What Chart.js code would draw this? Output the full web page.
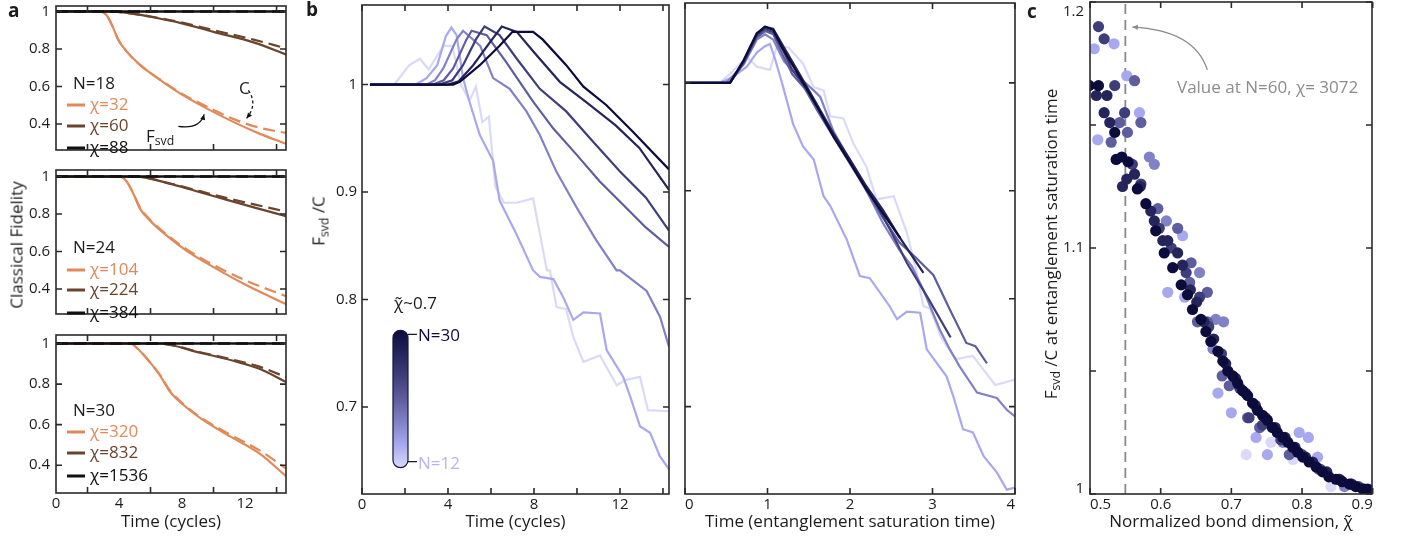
<!DOCTYPE html>
<html>
<head>
<meta charset="utf-8">
<script src="https://cdn.jsdelivr.net/npm/chart.js@4.4.1/dist/chart.umd.min.js"></script>
<style>
  html, body { margin: 0; padding: 0; background: #fff; }
  body { position: relative; width: 1406px; height: 537px; overflow: hidden;
         font-family: "Open Sans", "Noto Sans", sans-serif; color: #1c1c1c; }
  canvas { position: absolute; }
  .t { position: absolute; white-space: nowrap; font-size: 17px; line-height: 1; transform: translateY(-50%); }
  .rot { transform: translate(-50%, -50%) rotate(-90deg); }
  .panel { font-weight: 700; font-size: 19px; }
  sub { font-size: 72%; vertical-align: -0.3em; line-height: 0; }
  .key { display: inline-block; width: 18px; height: 3px; margin-right: 5px; vertical-align: middle; }
</style>
</head>
<body>
<canvas id="a1"></canvas>
<canvas id="a2"></canvas>
<canvas id="a3"></canvas>
<canvas id="bl"></canvas>
<canvas id="br"></canvas>
<canvas id="c"></canvas>
<script>
// ---------- panel a: classical fidelity vs time (cycles) ----------
const aN = [18, 24, 30];
const aChi = [[32, 60, 88], [104, 224, 384], [320, 832, 1536]];

const a18OrangeF = [[0,1],[2.79,1],[3.22,0.979],[3.62,0.915],[3.94,0.851],[4.48,0.787],[5.33,0.715],[6.6,0.635],[7.87,0.563],[9.56,0.483],[11.25,0.411],[12.95,0.347],[14.6,0.294]];
const a18OrangeC = [[0,1],[2.79,1],[3.22,0.979],[3.62,0.915],[3.94,0.851],[4.48,0.787],[5.33,0.715],[6.6,0.637],[7.87,0.567],[9.56,0.493],[11.25,0.427],[12.95,0.379],[14.6,0.352]];
const a18BrownF = [[0,1],[3.3,1],[4.95,0.987],[6.4,0.965],[7.87,0.939],[10,0.891],[12.54,0.835],[14.6,0.771]];
const a18BrownC = [[0,1],[3.3,1],[4.95,0.987],[6.4,0.967],[7.87,0.943],[10,0.9],[12.54,0.85],[14.6,0.803]];

const a24OrangeF = [[0,1],[4.06,1],[4.49,0.973],[4.91,0.909],[5.33,0.829],[5.97,0.765],[7.03,0.685],[8.3,0.604],[10,0.517],[12.1,0.42],[14.6,0.32]];
const a24OrangeC = [[0,1],[4.06,1],[4.49,0.973],[4.91,0.909],[5.33,0.835],[5.97,0.77],[7.03,0.69],[8.3,0.612],[10,0.528],[12.1,0.444],[14.6,0.362]];
const a24BrownF = [[0,1],[5.0,1],[7.45,0.957],[9.14,0.917],[10.8,0.877],[12.5,0.837],[14.6,0.789]];
const a24BrownC = [[0,1],[5.0,1],[7.45,0.959],[9.14,0.922],[10.8,0.886],[12.5,0.853],[14.6,0.813]];

const a30OrangeF = [[0,1],[4.7,1],[5.33,0.963],[5.97,0.907],[6.6,0.843],[7.24,0.762],[8.08,0.698],[9.14,0.633],[10.8,0.553],[12.95,0.456],[14.6,0.346]];
const a30OrangeC = [[0,1],[4.7,1],[5.33,0.963],[5.97,0.907],[6.6,0.845],[7.24,0.768],[8.08,0.702],[9.14,0.638],[10.8,0.562],[12.95,0.472],[14.6,0.384]];
const a30BrownF = [[0,1],[6.5,1],[9.14,0.955],[11.25,0.915],[12.95,0.874],[14.6,0.81]];
const a30BrownC = [[0,1],[6.5,1],[9.14,0.957],[11.25,0.92],[12.95,0.885],[14.6,0.834]];

const aBlack = [[0,1],[14.6,1]];

const aXTicks = [0, 2, 4, 6, 8, 10, 12, 14];
const aXLabels = ['0', '', '4', '', '8', '', '12', ''];
const aYTicks = [0.4, 0.6, 0.8, 1];
const aYLabels = ['0.4', '0.6', '0.8', '1'];

// ---------- panel b: F_svd / C, N = 30 ... 12 ----------
const bN = [30, 27, 24, 21, 18, 15, 12];
const bCyc30 = [[0.37,1],[4.24,1],[4.55,1.0025],[5.48,1.018],[6.4,1.036],[7.0,1.049],[7.96,1.049],[8.4,1.042],[9.5,1.018],[10.3,0.998],[11.36,0.981],[12.6,0.956],[14.28,0.921]];
const bCyc27 = [[0.37,1],[4.0,1],[4.5,1.003],[5.17,1.018],[5.94,1.039],[6.5,1.054],[7.2,1.049],[8.0,1.03],[9.2,1.0025],[10.4,0.984],[11.8,0.962],[12.9,0.941],[14.28,0.902]];
const bCyc24 = [[0.37,1],[3.6,1],[4.2,1.004],[4.7,1.018],[5.3,1.042],[5.7,1.054],[6.4,1.046],[7.2,1.024],[8.27,0.996],[9.5,0.975],[10.74,0.947],[12.0,0.919],[13.2,0.895],[14.28,0.864]];
const bCyc21 = [[0.37,1],[3.3,1],[3.8,1.004],[4.24,1.015],[4.86,1.042],[5.1,1.05],[5.8,1.046],[6.7,1.021],[7.96,0.984],[8.9,0.959],[9.97,0.935],[11.05,0.91],[12.1,0.889],[13.2,0.867],[14.28,0.849]];
const bCyc18 = [[0.37,1],[3.0,1],[3.4,1.004],[3.78,1.015],[4.4,1.042],[4.7,1.05],[5.5,1.036],[6.1,1.006],[6.87,0.996],[7.65,0.975],[8.27,0.953],[9.04,0.919],[9.97,0.886],[10.9,0.855],[11.84,0.827],[12.0,0.827],[13.24,0.808],[13.86,0.784],[14.28,0.756]];
const bCyc15 = [[0.37,1],[2.5,1],[3.0,1.006],[3.5,1.018],[3.9,1.045],[4.16,1.053],[4.4,1.046],[4.7,1.006],[5.0,0.984],[5.48,0.953],[6.1,0.929],[6.4,0.892],[7.18,0.861],[7.96,0.827],[8.28,0.821],[8.9,0.819],[9.36,0.802],[9.83,0.781],[10.3,0.788],[11.07,0.787],[11.38,0.753],[12.15,0.728],[12.47,0.71],[12.93,0.682],[13.4,0.676],[13.86,0.654],[14.28,0.642]];
const bCyc12 = [[0.37,1],[1.5,1],[2.2,1.018],[2.7,1.024],[3.1,1.014],[3.5,1.027],[3.8,1.036],[4.2,1.036],[4.6,1.0],[5.0,0.985],[5.3,0.998],[5.6,0.965],[5.9,0.97],[6.2,0.905],[6.6,0.89],[7.2,0.89],[7.96,0.894],[8.6,0.827],[8.74,0.827],[9.05,0.793],[9.5,0.791],[9.83,0.765],[10.3,0.742],[11.07,0.748],[11.85,0.72],[12.23,0.725],[12.93,0.728],[13.3,0.697],[14.28,0.696]];

const bSat30 = [[0,1],[0.545,1],[0.71,1.021],[0.87,1.046],[0.97,1.052],[1.07,1.049],[1.19,1.031],[1.39,1.0055],[1.6,0.978],[1.8,0.95],[2.0,0.926],[2.2,0.901],[2.4,0.879],[2.61,0.856]];
const bSat27 = [[0,1],[0.545,1],[0.71,1.02],[0.87,1.045],[0.97,1.052],[1.07,1.05],[1.19,1.034],[1.39,1.008],[1.6,0.98],[1.8,0.953],[2.0,0.929],[2.2,0.904],[2.4,0.882],[2.6,0.857],[2.89,0.824]];
const bSat24 = [[0,1],[0.545,1],[0.71,1.019],[0.87,1.044],[0.97,1.05],[1.07,1.047],[1.19,1.03],[1.3,1.012],[1.5,0.992],[1.7,0.965],[1.9,0.94],[2.1,0.915],[2.3,0.89],[2.5,0.862],[2.69,0.833],[2.95,0.8],[3.22,0.764]];
const bSat21 = [[0,1],[0.545,1],[0.71,1.018],[0.87,1.042],[0.97,1.048],[1.07,1.045],[1.19,1.025],[1.3,1.008],[1.45,0.995],[1.6,0.975],[1.8,0.95],[2.0,0.925],[2.2,0.9],[2.4,0.875],[2.6,0.852],[2.8,0.838],[3.01,0.822],[3.21,0.79],[3.41,0.759],[3.52,0.756],[3.66,0.74]];
const bSat18 = [[0,1],[0.5,1],[0.71,1.017],[0.87,1.04],[0.97,1.045],[1.07,1.04],[1.2,1.02],[1.43,1.002],[1.56,0.993],[1.64,0.987],[1.8,0.955],[2.0,0.928],[2.2,0.9],[2.4,0.87],[2.6,0.845],[2.75,0.83],[2.89,0.808],[3.09,0.771],[3.21,0.753],[3.33,0.737],[3.54,0.713],[3.78,0.708],[3.9,0.697],[4.0,0.691]];
const bSat15 = [[0,1],[0.42,1],[0.57,1.005],[0.75,1.015],[0.87,1.028],[0.97,1.034],[1.03,1.036],[1.1,1.02],[1.19,0.996],[1.31,0.962],[1.43,0.941],[1.56,0.929],[1.68,0.895],[1.76,0.886],[1.96,0.855],[2.12,0.821],[2.24,0.819],[2.48,0.793],[2.57,0.781],[2.69,0.788],[2.85,0.787],[2.93,0.753],[3.17,0.728],[3.25,0.71],[3.37,0.679],[3.49,0.676],[3.62,0.654],[3.78,0.639],[3.9,0.623],[4.0,0.625]];
const bSat12 = [[0,1],[0.42,1],[0.57,1.01],[0.75,1.024],[0.87,1.015],[1.03,1.012],[1.11,1.033],[1.25,1.033],[1.43,1.018],[1.56,0.996],[1.68,0.993],[1.76,0.969],[1.92,0.967],[2.04,0.944],[2.2,0.922],[2.32,0.892],[2.53,0.895],[2.69,0.861],[2.8,0.827],[2.89,0.793],[2.97,0.791],[3.1,0.765],[3.17,0.756],[3.29,0.744],[3.49,0.747],[3.76,0.72],[4.0,0.725]];

const bXTicks = [0, 2, 4, 6, 8, 10, 12, 14];
const bXLabels = ['0', '', '4', '', '8', '', '12', ''];
const bRXTicks = [0, 1, 2, 3, 4];
const bRXLabels = ['0', '1', '2', '3', '4'];
const bYTicks = [0.7, 0.8, 0.9, 1];
const bYLabels = ['0.7', '0.8', '0.9', '1'];

// ---------- panel c: F_svd / C at saturation time vs normalised bond dimension ----------
const cN30 = [[0.499,1.181],[0.499,1.166],[0.512,1.166],[0.535,1.147],[0.537,1.136],[0.545,1.137],[0.554,1.135],[0.567,1.124],[0.579,1.118],[0.593,1.107],[0.605,1.098],[0.617,1.092],[0.629,1.085],[0.638,1.081],[0.645,1.075],[0.657,1.071],[0.664,1.066],[0.671,1.062],[0.681,1.058],[0.688,1.054],[0.695,1.050],[0.702,1.048],[0.709,1.045],[0.716,1.042],[0.723,1.040],[0.730,1.037],[0.737,1.034],[0.744,1.032],[0.751,1.030],[0.758,1.027],[0.765,1.025],[0.773,1.023],[0.780,1.021],[0.787,1.019],[0.794,1.017],[0.801,1.015],[0.810,1.013],[0.820,1.011],[0.829,1.009],[0.838,1.007],[0.848,1.006],[0.857,1.005],[0.867,1.004],[0.876,1.003],[0.886,1.002],[0.893,1.002]];
const cN27 = [[0.509,1.162],[0.524,1.162],[0.520,1.155],[0.528,1.151],[0.546,1.125],[0.552,1.128],[0.563,1.130],[0.571,1.125],[0.586,1.115],[0.591,1.111],[0.603,1.103],[0.610,1.103],[0.624,1.098],[0.631,1.093],[0.642,1.083],[0.651,1.078],[0.661,1.070],[0.675,1.063],[0.692,1.053],[0.706,1.047],[0.720,1.041],[0.734,1.036],[0.748,1.031],[0.762,1.027],[0.776,1.023],[0.790,1.019],[0.805,1.015],[0.815,1.013],[0.835,1.009],[0.852,1.006],[0.870,1.004],[0.888,1.002]];
const cN24 = [[0.512,1.190],[0.520,1.185],[0.535,1.166],[0.549,1.155],[0.560,1.134],[0.572,1.126],[0.598,1.108],[0.615,1.100],[0.636,1.090],[0.655,1.080],[0.668,1.068],[0.686,1.057],[0.712,1.043],[0.725,1.031],[0.744,1.028],[0.770,1.022],[0.800,1.016],[0.826,1.010],[0.853,1.006],[0.880,1.003]];
const cN21 = [[0.563,1.168],[0.542,1.151],[0.553,1.147],[0.572,1.151],[0.530,1.143],[0.596,1.116],[0.624,1.108],[0.643,1.094],[0.641,1.086],[0.666,1.082],[0.652,1.070],[0.666,1.070],[0.687,1.048],[0.697,1.044],[0.723,1.031],[0.740,1.027],[0.782,1.016],[0.824,1.010],[0.870,1.004]];
const cN18 = [[0.584,1.137],[0.591,1.134],[0.608,1.111],[0.655,1.090],[0.678,1.071],[0.689,1.070],[0.674,1.059],[0.773,1.021],[0.860,1.003]];
const cN15 = [[0.506,1.181],[0.534,1.183],[0.552,1.170],[0.570,1.155],[0.511,1.144],[0.631,1.105],[0.610,1.082],[0.634,1.080],[0.681,1.041],[0.700,1.033],[0.735,1.023],[0.751,1.016],[0.796,1.025],[0.809,1.023],[0.822,1.015]];
const cN12 = [[0.721,1.016],[0.756,1.021],[0.787,1.014],[0.841,1.003]];
const cRefChi = 0.55;   // dashed line, value at N=60

const cXTicks = [0.5, 0.6, 0.7, 0.8, 0.9];
const cXLabels = ['0.5', '0.6', '0.7', '0.8', '0.9'];
const cYTicks = [1, 1.05, 1.1, 1.15, 1.2];
const cYLabels = ['1', '', '1.1', '', '1.2'];

// ---------- styling ----------
const FONT = '"Open Sans", "Noto Sans", sans-serif';
const INK = '#1c1c1c';
const ORANGE = '#e08a5a', BROWN = '#6b442d', BLACK = '#111111';
const aColors = [ORANGE, BROWN, BLACK];
const nColors = ['#0b0b3c', '#25255c', '#3e3e7a', '#5e5e9e', '#8181c6', '#a8a8ef', '#dadaf8'];
const PADT = 12, PADR = 14;

Chart.defaults.font.family = FONT;
Chart.defaults.color = INK;

// frame with inward ticks on all four sides
Chart.register({
  id: 'frame',
  afterDatasetsDraw(chart, args, o) {
    const { ctx, chartArea: a, scales: { x, y } } = chart;
    ctx.save();
    ctx.strokeStyle = '#2a2a2a';
    ctx.lineWidth = 1.6;
    ctx.strokeRect(a.left, a.top, a.right - a.left, a.bottom - a.top);
    const L = 6;
    ctx.beginPath();
    (o.xMarks || x.ticks.map(t => t.value)).forEach(v => {
      const p = x.getPixelForValue(v);
      ctx.moveTo(p, a.bottom); ctx.lineTo(p, a.bottom - L);
      ctx.moveTo(p, a.top); ctx.lineTo(p, a.top + L);
    });
    y.ticks.forEach(t => {
      const p = y.getPixelForValue(t.value);
      ctx.moveTo(a.left, p); ctx.lineTo(a.left + L, p);
      ctx.moveTo(a.right, p); ctx.lineTo(a.right - L, p);
    });
    ctx.stroke();
    if (o.yLabels) {
      ctx.fillStyle = INK;
      ctx.font = '15px ' + FONT;
      ctx.textAlign = 'right';
      y.ticks.forEach((t, i) => {
        const p = y.getPixelForValue(t.value);
        if (!o.yLabels[i]) return;
        if (t.value === y.max) { ctx.textBaseline = 'top'; ctx.fillText(o.yLabels[i], a.left - 6, p + 2); }
        else if (t.value === y.min) { ctx.textBaseline = 'alphabetic'; ctx.fillText(o.yLabels[i], a.left - 6, p - 1); }
        else { ctx.textBaseline = 'middle'; ctx.fillText(o.yLabels[i], a.left - 6, p); }
      });
    }
    ctx.restore();
  }
});

function place(id, f, yW, xH) {
  const cv = document.getElementById(id);
  cv.width = (f.r - f.l) + yW + PADR;
  cv.height = (f.b - f.t) + PADT + xH;
  cv.style.left = (f.l - yW) + 'px';
  cv.style.top = (f.t - PADT) + 'px';
  return cv;
}

function axis(o) {
  return {
    type: 'linear', min: o.min, max: o.max,
    afterBuildTicks: s => { s.ticks = o.ticks.map(v => ({ value: v })); },
    afterFit: s => { if (o.w != null) s.width = o.w; if (o.h != null) s.height = o.h; },
    grid: { display: false, drawTicks: false },
    border: { display: false },
    ticks: {
      display: !!o.labels, autoSkip: false, maxRotation: 0, minRotation: 0,
      padding: o.pad == null ? 4 : o.pad, align: o.align || 'center',
      color: INK, font: { family: FONT, size: 15 },
      callback: (v, i) => (o.labels ? o.labels[i] : '')
    },
    title: o.title
      ? { display: true, text: o.title, color: INK, font: { family: FONT, size: 17 }, padding: { top: 0, bottom: 5 } }
      : { display: false }
  };
}

function line(pts, color, dash, width, smooth) {
  return {
    data: pts.map(p => ({ x: p[0], y: p[1] })),
    borderColor: color, borderWidth: width || 2.2, borderDash: dash || [],
    pointRadius: 0, fill: false, tension: smooth ? 0.35 : 0,
    cubicInterpolationMode: smooth ? 'monotone' : 'default'
  };
}

function base(plugins, frameOpts) {
  return {
    responsive: false, animation: false, events: [],
    layout: { padding: { top: PADT, right: PADR, left: 0, bottom: 0 } },
    plugins: Object.assign({ legend: { display: false }, tooltip: { enabled: false }, frame: frameOpts || {} }, plugins || {})
  };
}

const px = (c, x, y) => ({ x: c.scales.x.getPixelForValue(x), y: c.scales.y.getPixelForValue(y) });

function arrow(ctx, p0, pc, p1, color, dash, head, width) {
  ctx.save();
  ctx.strokeStyle = color; ctx.fillStyle = color; ctx.lineWidth = width || 1.4;
  ctx.setLineDash(dash || []);
  ctx.beginPath(); ctx.moveTo(p0.x, p0.y); ctx.quadraticCurveTo(pc.x, pc.y, p1.x, p1.y); ctx.stroke();
  ctx.setLineDash([]);
  const ang = Math.atan2(p1.y - pc.y, p1.x - pc.x);
  ctx.beginPath(); ctx.moveTo(p1.x, p1.y);
  ctx.lineTo(p1.x - head * Math.cos(ang - 0.45), p1.y - head * Math.sin(ang - 0.45));
  ctx.lineTo(p1.x - head * Math.cos(ang + 0.45), p1.y - head * Math.sin(ang + 0.45));
  ctx.closePath(); ctx.fill();
  ctx.restore();
}

// ---------- panel a charts ----------
const aFrames = [{ l: 56, t: 3, r: 286, b: 163 }, { l: 56, t: 167, r: 286, b: 327 }, { l: 56, t: 332, r: 286, b: 493 }];
const aYMin = [0.261, 0.267, 0.263], aYMax = [1.029, 1.035, 1.042];
const aSeries = [
  [a18OrangeF, a18OrangeC, a18BrownF, a18BrownC],
  [a24OrangeF, a24OrangeC, a24BrownF, a24BrownC],
  [a30OrangeF, a30OrangeC, a30BrownF, a30BrownC]
];
const aNotes = {
  id: 'aNotes',
  afterDatasetsDraw(c) {
    const ctx = c.ctx;
    arrow(ctx, px(c, 12.21, 0.579), px(c, 12.83, 0.506), px(c, 12.1, 0.43), '#111', [3, 2.5], 6, 1.3);
    arrow(ctx, px(c, 7.77, 0.387), px(c, 9.14, 0.371), px(c, 9.4, 0.451), '#111', [], 6, 1.3);
  }
};

['a1', 'a2', 'a3'].forEach((id, k) => {
  const last = k === 2;
  const cv = place(id, aFrames[k], 50, last ? 44 : 2);
  const s = aSeries[k];
  new Chart(cv, {
    type: 'line',
    data: {
      datasets: [
        line(aBlack, BLACK, [], 2.6),
        line(aBlack, BLACK, [12, 6], 2.6),
        line(s[3], BROWN, [12, 6], 2.2, true),
        line(s[2], BROWN, [], 2.2, true),
        line(s[1], ORANGE, [12, 6], 2.2, true),
        line(s[0], ORANGE, [], 2.2, true)
      ]
    },
    options: Object.assign(base({}, { xMarks: [2, 6, 10, 14] }), {
      scales: {
        x: axis({ min: 0, max: 14.6, ticks: aXTicks, labels: last ? aXLabels : null, h: last ? 44 : 2, pad: 2, title: last ? 'Time (cycles)' : null }),
        y: axis({ min: aYMin[k], max: aYMax[k], ticks: aYTicks, labels: aYLabels, w: 50, pad: 6 })
      }
    }),
    plugins: k === 0 ? [aNotes] : []
  });
});

// ---------- panel b charts ----------
const bFrameL = { l: 362, t: 3, r: 669, b: 494 };
const bFrameR = { l: 685, t: 3, r: 1015, b: 494 };
const bCyc = [bCyc30, bCyc27, bCyc24, bCyc21, bCyc18, bCyc15, bCyc12];
const bSat = [bSat30, bSat27, bSat24, bSat21, bSat18, bSat15, bSat12];

const colorBar = {
  id: 'colorBar',
  afterDatasetsDraw(c) {
    const ctx = c.ctx;
    const top = px(c, 1.79, 0.7713), bot = px(c, 1.79, 0.6435);
    const w = 15, x0 = top.x - w / 2;
    const g = ctx.createLinearGradient(0, top.y, 0, bot.y);
    nColors.forEach((col, i) => g.addColorStop(i / (nColors.length - 1), col));
    ctx.save();
    ctx.beginPath();
    ctx.roundRect(x0, top.y, w, bot.y - top.y, w / 2);
    ctx.fillStyle = g; ctx.fill();
    ctx.strokeStyle = '#15154a'; ctx.lineWidth = 1.2; ctx.stroke();
    ctx.beginPath();
    ctx.moveTo(x0 + w, top.y + 4); ctx.lineTo(x0 + w + 9, top.y + 4);
    ctx.moveTo(x0 + w, bot.y - 6); ctx.lineTo(x0 + w + 9, bot.y - 6);
    ctx.strokeStyle = '#1a1a1a'; ctx.lineWidth = 1.3; ctx.stroke();
    ctx.restore();
  }
};

new Chart(place('bl', bFrameL, 40, 43), {
  type: 'line',
  data: { datasets: bCyc.map((d, i) => line(d, nColors[i], [], 2.2)) },
  options: Object.assign(base(), {
    scales: {
      x: axis({ min: 0, max: 14.28, ticks: bXTicks, labels: bXLabels, h: 43, pad: 2, title: 'Time (cycles)' }),
      y: axis({ min: 0.619, max: 1.074, ticks: bYTicks, labels: bYLabels, w: 40, pad: 5 })
    }
  }),
  plugins: [colorBar]
});

new Chart(place('br', bFrameR, 8, 43), {
  type: 'line',
  data: { datasets: bSat.map((d, i) => line(d, nColors[i], [], 2.2)) },
  options: Object.assign(base(), {
    scales: {
      x: axis({ min: 0, max: 4, ticks: bRXTicks, labels: bRXLabels, h: 43, pad: 2, align: 'inner', title: 'Time (entanglement saturation time)' }),
      y: axis({ min: 0.619, max: 1.074, ticks: bYTicks, labels: null, w: 8 })
    }
  })
});

// ---------- panel c chart ----------
const cSets = [cN30, cN27, cN24, cN21, cN18, cN15, cN12];
const cNotes = {
  id: 'cNotes',
  beforeDatasetsDraw(c) {
    const ctx = c.ctx, a = c.chartArea;
    const xp = c.scales.x.getPixelForValue(cRefChi);
    ctx.save();
    ctx.strokeStyle = '#8a8a8a'; ctx.lineWidth = 1.8; ctx.setLineDash([10, 6]);
    ctx.beginPath(); ctx.moveTo(xp, a.top + 2); ctx.lineTo(xp, a.bottom); ctx.stroke();
    ctx.restore();
  },
  afterDatasetsDraw(c) {
    arrow(c.ctx, px(c, 0.666, 1.1724), px(c, 0.648, 1.1886), px(c, 0.56, 1.1898), '#8a8a8a', [], 6, 1.3);
  }
};

new Chart(place('c', { l: 1090, t: 2, r: 1372, b: 494 }, 45, 43), {
  type: 'scatter',
  data: {
    datasets: cSets.map((d, i) => ({
      data: d.map(p => ({ x: p[0], y: p[1] })),
      pointRadius: 5.6, pointBorderWidth: 0,
      pointBackgroundColor: nColors[i], backgroundColor: nColors[i]
    }))
  },
  options: Object.assign(base({}, { yLabels: cYLabels }), {
    scales: {
      x: axis({ min: 0.5, max: 0.899, ticks: cXTicks, labels: cXLabels, h: 43, pad: 2, align: 'inner', title: 'Normalized bond dimension, \u03C7\u0303' }),
      y: axis({ min: 1, max: 1.2, ticks: cYTicks, labels: null, w: 45 })
    }
  }),
  plugins: [cNotes]
});

// ---------- text overlays ----------
function addText(html, x, y, cls, style) {
  const d = document.createElement('div');
  d.className = 't ' + (cls || '');
  d.innerHTML = html;
  d.style.left = x + 'px';
  d.style.top = y + 'px';
  if (style) Object.assign(d.style, style);
  document.body.appendChild(d);
  return d;
}

const aLegendY = [[82, 103, 124, 146], [246, 268, 288, 311], [409, 430, 451, 474]];
aN.forEach((n, k) => {
  const ys = aLegendY[k];
  addText('N=' + n, 73, ys[0]);
  aChi[k].forEach((chi, j) => {
    addText('<span class="key" style="background:' + aColors[j] + '"></span>\u03C7=' + chi, 67, ys[j + 1], '', { color: aColors[j] });
  });
});
addText('C', 239, 87);
addText('F<sub>svd</sub>', 146, 135);

addText('a', 8, 10, 'panel');
addText('b', 306, 9, 'panel');
addText('c', 1027, 11, 'panel');

addText('Classical Fidelity', 16, 245, 'rot');
addText('F<sub>svd</sub> /C', 318, 221, 'rot');
addText('F<sub>svd</sub> /C at entanglement saturation time', 1050, 244, 'rot');

addText('\u03C7\u0303~0.7', 394, 302);
addText('N=' + bN[0], 418, 334, '', { color: nColors[0] });
addText('N=' + bN[bN.length - 1], 418, 462, '', { color: '#b6b6e8' });

addText('Value at N=60, \u03C7= 3072', 1177, 86, '', { color: '#8c8c8c' });
</script>
</body>
</html>
